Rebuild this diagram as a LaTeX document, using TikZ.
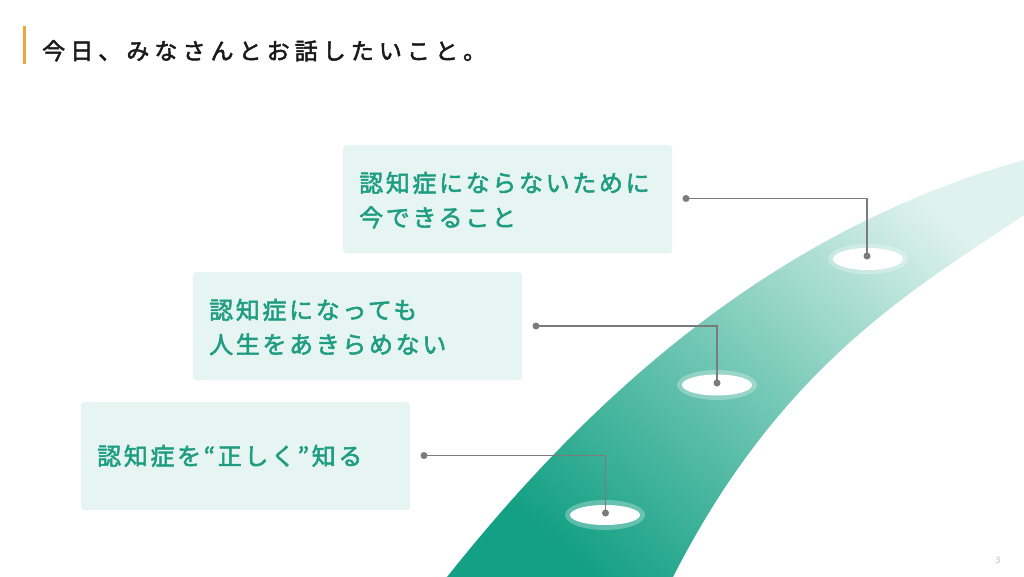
\documentclass[tikz,border=0pt]{standalone}
\usepackage{fontspec}
\setmainfont{Noto Sans CJK JP}
\newfontfamily\titlefont{Noto Sans CJK JP}[LetterSpace=22, FakeBold=2.2]
\newfontfamily\boxfont{Noto Sans CJK JP}[LetterSpace=11, FakeBold=2.2]
\newfontfamily\pgfont{Noto Sans}
\definecolor{boxfill}{HTML}{E7F5F2}
\definecolor{textgreen}{HTML}{1F9D82}
\definecolor{linegray}{HTML}{7B7B7B}
\definecolor{roadA}{HTML}{14A084}
\definecolor{roadB}{HTML}{74C8B6}
\definecolor{roadC}{HTML}{DFF2ED}
\definecolor{barorange}{HTML}{F2A33A}
\definecolor{titleblack}{HTML}{1A1A1A}
\tikzset{
  box/.style={fill=boxfill, rounded corners=3pt, draw=none, anchor=north west, inner sep=0pt, minimum width=329pt, minimum height=108pt},
  txt/.style={anchor=base west, inner sep=0pt, text=textgreen, font=\boxfont\fontsize{24}{24}\selectfont},
  dot/.style={circle, fill=linegray, inner sep=0pt, minimum size=7pt},
  conn/.style={draw=linegray, line width=1.8pt},
  halo/.style={fill=white, fill opacity=0.28},
  hole/.style={fill=white},
}
\begin{document}
\begin{tikzpicture}[x=1pt,y=-1pt]
\useasboundingbox (0,0) rectangle (1024,577);
\fill[white] (0,0) rectangle (1024,577);
% title
\fill[barorange] (23,26) rectangle (26,64);
\node[anchor=base west, inner sep=0pt, text=titleblack, font=\titlefont\fontsize{23}{23}\selectfont] (title) at (42,59.5) {今日、みなさんとお話したいこと。};
% road
\begin{scope}
\clip (0,0) rectangle (1024,577);
\shade[top color=roadC, bottom color=roadA, middle color=roadB, shading angle=-42]
  (447,577) .. controls (602,382) and (784,227.5) .. (1024,160)
  -- (1030,158) -- (1030,211) -- (1024,215)
  .. controls (916,288) and (782,363) .. (673,577)
  -- (673,580) -- (445,580) -- cycle;
\end{scope}
% holes
\fill[halo] (605,515) ellipse [x radius=40, y radius=15];
\fill[hole] (605,515) ellipse [x radius=35, y radius=10];
\fill[halo] (717,385) ellipse [x radius=40, y radius=15];
\fill[hole] (717,385) ellipse [x radius=35, y radius=10.5];
\fill[halo] (868,259) ellipse [x radius=40, y radius=15];
\fill[hole] (868,259) ellipse [x radius=35, y radius=11];
% boxes
\node[box] (b1) at (343,145) {};
\node[box] (b2) at (193,272) {};
\node[box] (b3) at (81,402) {};
% texts
\node[txt] (t1a) at (359,192) {認知症にならないために};
\node[txt] (t1b) at (359,226.5) {今できること};
\node[txt] (t2a) at (209,319) {認知症になっても};
\node[txt] (t2b) at (209,353.5) {人生をあきらめない};
\node[txt] (t3) at (97,465) {認知症を“正しく”知る};
% dots
\node[dot] (s1) at (424,455.5) {};
\node[dot] (e1) at (605.5,513) {};
\node[dot] (s2) at (536,326) {};
\node[dot] (e2) at (717,383) {};
\node[dot] (s3) at (686,198.5) {};
\node[dot] (e3) at (867,256) {};
% connectors
\draw[conn] (s1.center) -| (e1.center);
\draw[conn] (s2.center) -| (e2.center);
\draw[conn] (s3.center) -| (e3.center);
% page number
\node[font=\pgfont\fontsize{9}{9}\selectfont, text=black!25, inner sep=0pt] (pg) at (998,560) {3};
\end{tikzpicture}
\end{document}
